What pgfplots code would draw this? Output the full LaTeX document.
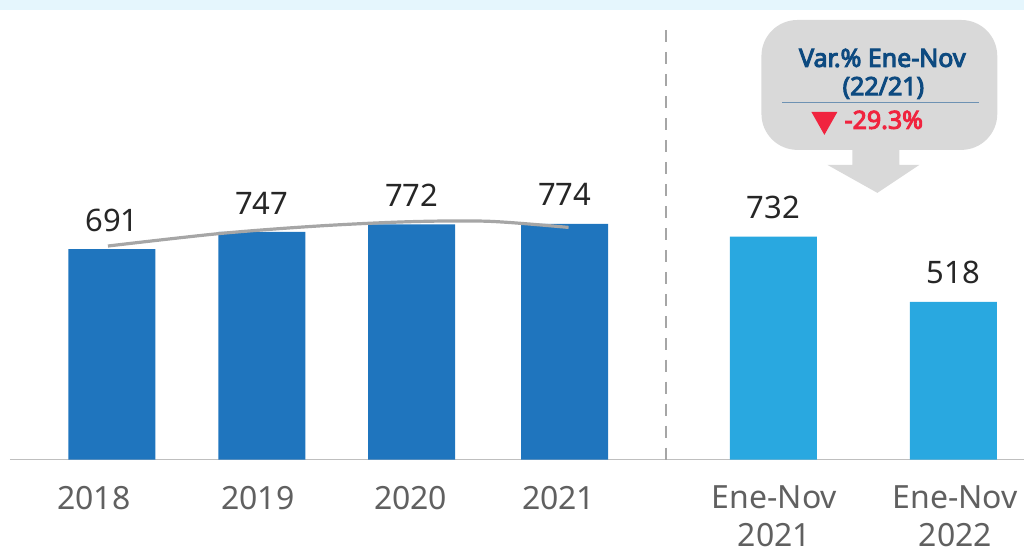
\documentclass[border=0pt]{standalone}
\usepackage{pgfplots}
\pgfplotsset{compat=1.18}
\usepackage{fontspec}
\setmainfont{Noto Sans}
\newfontfamily\boldsans{Noto Sans}[FakeBold=4]

\definecolor{bardark}{HTML}{1F75BE}
\definecolor{barlight}{HTML}{29A8E0}
\definecolor{trend}{HTML}{A6A6A6}
\definecolor{band}{HTML}{E5F6FD}
\definecolor{callout}{HTML}{D9D9D9}
\definecolor{navy}{HTML}{0D4A80}
\definecolor{redv}{HTML}{F0243F}
\definecolor{ticktxt}{HTML}{606060}
\definecolor{valtxt}{HTML}{262626}

\newcommand\tickfont{\fontsize{32}{44}\selectfont}
\newcommand\valfont{\fontsize{31}{31}\selectfont}

\begin{document}
\begin{tikzpicture}
% pixel frame of the reference (1025 x 558, y downwards)
\begin{scope}[x=1pt,y=-1pt,shift={(-10pt,460pt)}]
  \path[use as bounding box] (0,0) rectangle (1025,558);
  \fill[band] (0,0) rectangle (1025,10);
\end{scope}

\begin{axis}[
    at={(0,0)}, anchor=south west,
    scale only axis,
    width=1015pt, height=450pt,
    xmin=10, xmax=1025,
    ymin=0, ymax=1475.4,
    axis y line=none,
    axis x line*=bottom,
    x axis line style={draw=black!25, line width=1.5pt},
    xtick={94,258,411,559,775,956},
    xticklabels={2018,2019,2020,2021,{Ene-Nov\\[-6pt]2021},{Ene-Nov\\[-6pt]2022}},
    xtick style={draw=none},
    xticklabel style={align=center, font=\tickfont, text=ticktxt,
                      inner sep=0pt, anchor=north, yshift=-26pt},
    /pgf/number format/assume math mode=true,
    clip=false,
]
\addplot[ybar, bar width=87pt, bar shift=0pt, fill=bardark, draw=none,
    nodes near coords, every node near coord/.append style={font=\valfont,
    text=valtxt, anchor=base, yshift=18pt}]
    coordinates {(112,691) (262,747) (412,772) (565,774)};
\addplot[ybar, bar width=87pt, bar shift=0pt, fill=barlight, draw=none,
    nodes near coords, every node near coord/.append style={font=\valfont,
    text=valtxt, anchor=base, yshift=18pt}]
    coordinates {(774,732) (954,518)};
% trend line
\addplot[smooth, trend, line width=3.2pt, no marks]
    coordinates {(108,701) (220,742) (320,767) (412,781) (490,782) (569,762)};
\end{axis}

\begin{scope}[x=1pt,y=-1pt,shift={(-10pt,460pt)}]
  % divider
  \draw[black!35, line width=2pt, dash pattern=on 12pt off 10pt] (666,30) -- (666,460);
  % callout
  \fill[callout, rounded corners=36pt] (762,20) rectangle (998,150);
  \fill[callout] (853,149) -- (853,165) -- (828,165) -- (878,193)
        -- (920,165) -- (900,165) -- (900,149) -- cycle;
  \node[font=\fontsize{25}{25}\boldsans, text=navy] at (883,58) {Var.\% Ene-Nov};
  \node[font=\fontsize{25}{25}\boldsans, text=navy] at (884,88) {(22/21)};
  \draw[navy!60, line width=1pt] (783,103) -- (980,103);
  \fill[redv] (812,112) -- (838,112) -- (825,135) -- cycle;
  \node[font=\fontsize{25}{25}\boldsans, text=redv, anchor=west, inner sep=0pt]
      at (845,120) {-29.3\%};
\end{scope}
\end{tikzpicture}
\end{document}
